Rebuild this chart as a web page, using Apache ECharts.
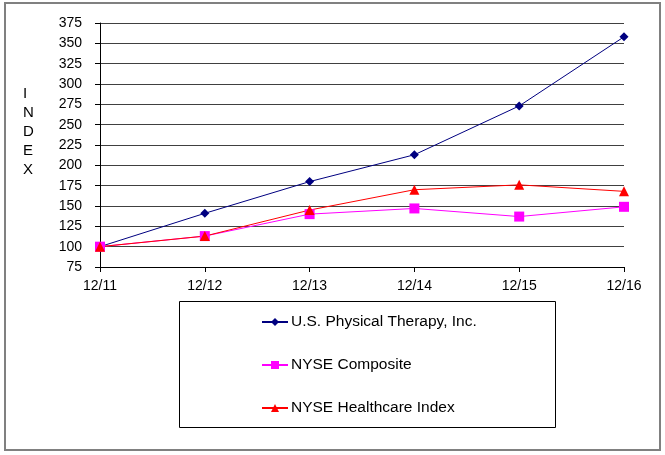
<!DOCTYPE html>
<html>
<head>
<meta charset="utf-8">
<script src="https://cdn.jsdelivr.net/npm/echarts@6/dist/echarts.min.js"></script>
<style>
html,body{margin:0;padding:0;background:#fff;}
#c{width:665px;height:455px;}
</style>
</head>
<body>
<div id="c"></div>
<script>
var categories = ['12/11','12/12','12/13','12/14','12/15','12/16'];
var usph = [100, 141, 180, 213, 273, 358];
var nyseComposite = [100, 113, 140, 147, 137, 149];
var nyseHealthcare = [100, 113, 145, 170, 176, 168];
var seriesNames = ['U.S. Physical Therapy, Inc.', 'NYSE Composite', 'NYSE Healthcare Index'];

var chart = echarts.init(document.getElementById('c'));
var font = 'Liberation Sans, Arial, sans-serif';
chart.setOption({
  animation: false,
  backgroundColor: '#fff',
  grid: {left: 100, right: 41, top: 23, bottom: 188},
  xAxis: {
    type: 'category',
    data: categories,
    boundaryGap: false,
    axisLine: {lineStyle: {color: '#000', width: 1}},
    axisTick: {show: true, length: 5, inside: false, alignWithLabel: true, lineStyle: {color: '#000'}},
    axisLabel: {color: '#000', fontSize: 14, fontFamily: font, margin: 12}
  },
  yAxis: {
    type: 'value',
    min: 75, max: 375, interval: 25,
    axisLine: {show: true, lineStyle: {color: '#000', width: 1}},
    axisTick: {show: true, length: 5, lineStyle: {color: '#000'}},
    axisLabel: {color: '#000', fontSize: 14, fontFamily: font, margin: 18},
    splitLine: {show: true, lineStyle: {color: '#404040', width: 1}}
  },
  legend: {
    orient: 'vertical',
    left: 261, top: 314,
    padding: 0,
    itemGap: 27,
    itemWidth: 26, itemHeight: 10,
    textStyle: {color: '#000', fontSize: 15.5, fontFamily: font, padding: [0,0,0,-2]},
    data: seriesNames
  },
  series: [
    {name: seriesNames[0], type: 'line', data: usph, symbol: 'diamond', symbolSize: 9,
     lineStyle: {color: '#000080', width: 1}, itemStyle: {color: '#000080'}},
    {name: seriesNames[1], type: 'line', data: nyseComposite, symbol: 'rect', symbolSize: 10,
     lineStyle: {color: '#FF00FF', width: 1}, itemStyle: {color: '#FF00FF'}},
    {name: seriesNames[2], type: 'line', data: nyseHealthcare, symbol: 'triangle', symbolSize: 10,
     lineStyle: {color: '#FF0000', width: 1}, itemStyle: {color: '#FF0000'}}
  ],
  graphic: [
    {type: 'rect', shape: {x: 5, y: 3, width: 655, height: 447}, style: {fill: null, stroke: '#808080', lineWidth: 2}, z: -1},
    {type: 'rect', shape: {x: 179.5, y: 301.5, width: 376, height: 126}, style: {fill: null, stroke: '#000', lineWidth: 1}, z: -1},
    {type: 'text', left: 23, top: 84, style: {text: 'I\nN\nD\nE\nX', fill: '#000', fontSize: 15, fontFamily: font, lineHeight: 19, align: 'center', width: 14}}
  ]
});
</script>
</body>
</html>
